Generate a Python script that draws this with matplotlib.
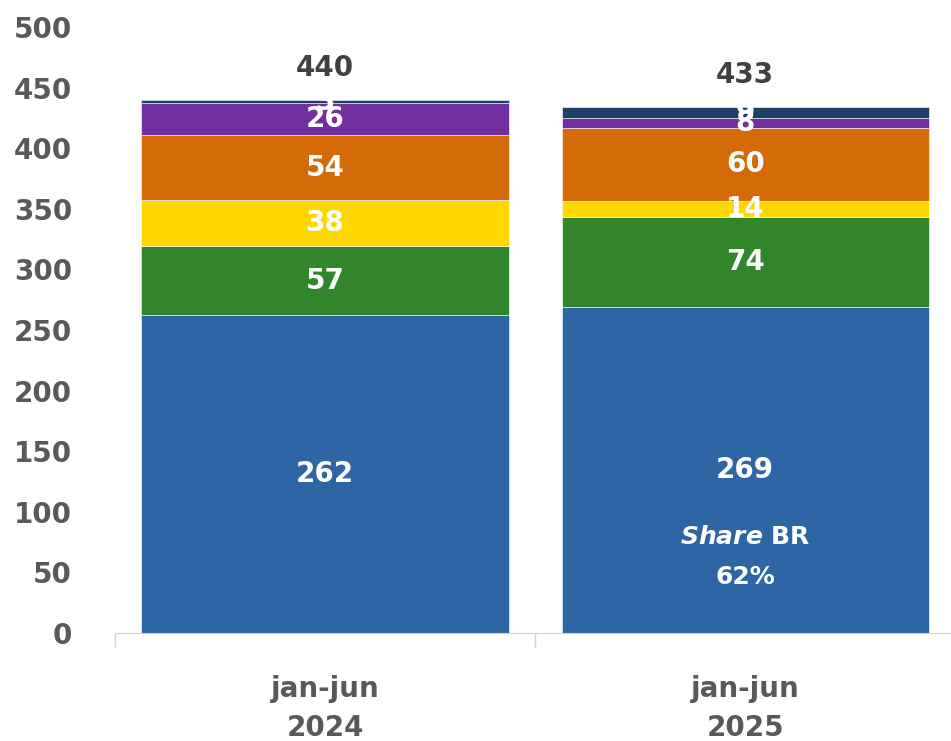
import numpy as np
import matplotlib
matplotlib.use("Agg")
import matplotlib.pyplot as plt

plt.rcParams["font.family"] = ["DejaVu Sans"]

# dados
categorias = ["jan-jun\n2024", "jan-jun\n2025"]
br = [262, 269]
verde = [57, 74]
amarelo = [38, 13.6]
laranja = [54, 60]
roxo = [26, 8]
outros = [3, 9]
totais = [440, 433]
share_br = "62%"

series = [br, verde, amarelo, laranja, roxo, outros]
cores = ["#2E65A5", "#31862B", "#FFD700", "#D46B08", "#7030A0", "#1F3F66"]
yticks = [0, 50, 100, 150, 200, 250, 300, 350, 400, 450, 500]

fig = plt.figure(figsize=(9.51, 7.41), dpi=100)
ax = fig.add_axes([115 / 951, 108 / 741, 836 / 951, 606 / 741])

x = np.arange(len(categorias))
base = np.zeros(len(categorias))
for vals, cor in zip(series, cores):
    ax.bar(x, vals, bottom=base, width=0.874, color=cor, edgecolor="white", linewidth=0.4)
    for xi, b, v in zip(x, base, vals):
        ax.text(xi, b + v / 2, f"{v:.0f}", ha="center", va="center", color="white",
                fontsize=20, fontweight="bold")
    base = base + np.array(vals)

# totais acima das barras
for xi, b, t in zip(x, base, totais):
    ax.text(xi, b + 15, str(t), ha="center", va="bottom", color="#404040",
            fontsize=20, fontweight="bold")

# share BR
ax.text(1, 79, r"$\mathbfit{Share}$ BR", ha="center", va="center", color="white",
        fontsize=18, fontweight="bold")
ax.text(1, 46, share_br, ha="center", va="center", color="white",
        fontsize=18, fontweight="bold")

ax.set_ylim(0, 500)
ax.set_xlim(-0.5, 1.49)
ax.set_yticks(yticks)
ax.set_yticklabels([str(v) for v in yticks], fontsize=20, fontweight="bold", color="#595959")
ax.tick_params(axis="y", length=0, pad=31)

ax.set_xticks(x)
ax.set_xticklabels(categorias, fontsize=20, fontweight="bold", color="#595959", linespacing=1.5)
ax.tick_params(axis="x", length=0, pad=30)
ax.set_xticks([-0.5, 0.5], minor=True)
ax.tick_params(axis="x", which="minor", length=10, color="#D0D0D0", width=1)

for s in ["top", "right", "left"]:
    ax.spines[s].set_visible(False)
ax.spines["bottom"].set_color("#D0D0D0")

fig.savefig("out.png", dpi=100)
